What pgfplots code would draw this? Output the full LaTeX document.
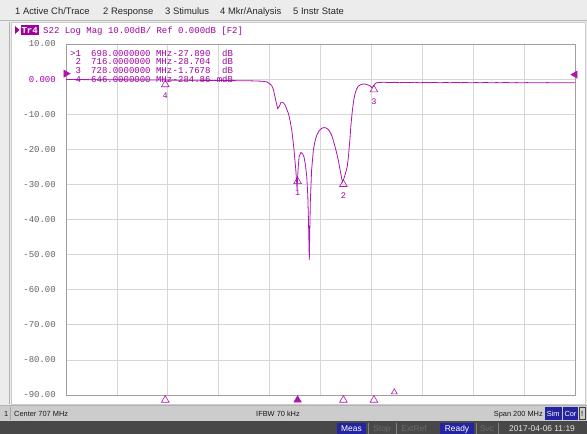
\documentclass[border=0pt]{standalone}
\usepackage{pgfplots}
\pgfplotsset{compat=1.18}
\usepackage{fontspec}
\setmainfont{Liberation Sans}
\newfontfamily\mono{Liberation Mono}
\definecolor{mag}{RGB}{175,20,175}
\definecolor{magtxt}{RGB}{160,0,160}
\definecolor{gridc}{RGB}{214,214,214}
\definecolor{framec}{RGB}{236,236,236}
\definecolor{statusc}{RGB}{204,204,204}
\definecolor{darkbar}{RGB}{72,72,72}
\definecolor{bluebox}{RGB}{36,36,160}
\definecolor{ticktxt}{RGB}{100,100,100}

\pgfplotstableread{
f db
607 -0.10
615 -0.15
625 -0.20
635 -0.25
646 -0.28
655 -0.33
665 -0.38
675 -0.45
680 -0.50
684 -0.60
685.9 -0.80
687 -1.30
687.8 -1.80
688.5 -3.00
689.1 -5.00
689.7 -7.00
690.2 -8.40
690.8 -7.80
691.5 -6.60
692.2 -6.60
693.1 -7.40
694.4 -9.80
695.1 -12.0
695.7 -14.5
696.2 -17.5
696.6 -20.2
697.0 -23.5
697.3 -25.9
697.6 -29.0
697.8 -31.5
698.0 -27.89
698.3 -24.5
698.6 -22.1
699.3 -20.9
699.9 -21.2
700.5 -22.1
701.1 -24.5
701.6 -27.8
702.0 -33.0
702.3 -41.0
702.6 -51.5
702.8 -43.0
703.0 -35.0
703.5 -26.0
704.2 -20.2
704.8 -17.8
705.5 -16.0
706.5 -14.7
707.5 -14.0
708.5 -13.8
709.4 -14.0
710.1 -14.4
710.7 -15.0
711.4 -16.0
712.0 -17.4
712.7 -19.2
713.4 -21.2
714.1 -23.5
714.7 -25.9
715.2 -27.8
715.6 -29.3
716.0 -28.704
716.6 -27.4
717.5 -25.0
717.9 -22.5
718.2 -20.2
718.6 -16.8
718.9 -13.6
719.3 -10.5
719.7 -7.9
720.1 -5.8
720.6 -4.1
721.2 -2.8
721.9 -2.0
722.8 -1.6
723.8 -1.4
724.8 -1.45
725.8 -1.7
726.6 -2.0
727.1 -2.4
727.6 -2.2
728.0 -1.7678
728.5 -1.3
729.1 -1.05
730 -0.95
732 -0.90
734 -0.98
736 -0.92
738 -1.02
740 -0.94
742 -1.00
744 -0.90
746 -1.04
748 -0.95
750 -1.02
752 -0.93
754 -1.05
756 -0.97
758 -1.03
760 -0.95
762 -1.02
764 -0.97
766 -1.06
768 -0.99
770 -1.03
772 -0.97
774 -1.06
776 -1.00
778 -1.03
780 -0.97
782 -1.05
784 -1.00
786 -1.06
788 -1.00
790 -1.04
792 -1.01
794 -1.06
796 -1.00
798 -1.04
800 -1.02
802 -1.05
804 -1.02
806 -1.04
807 -1.04
}\trace

\begin{document}
\begin{tikzpicture}
\begin{scope}[x=1pt,y=1pt]
\useasboundingbox (0,0) rectangle (587,-434);
\fill[framec] (0,0) rectangle (587,-434);
% menu bar
\draw[gray!55] (0,-20.5) -- (587,-20.5);
\begin{scope}[every node/.style={anchor=base west, inner sep=0, font=\fontsize{9.4}{10}\selectfont, text=black!85}]
\node at (15,-14.5) {1 Active Ch/Trace};
\node at (103,-14.5) {2 Response};
\node at (165,-14.5) {3 Stimulus};
\node at (220,-14.5) {4 Mkr/Analysis};
\node at (293,-14.5) {5 Instr State};
\end{scope}
% panel
\fill[white] (12,-22) rectangle (585,-404);
\draw[gray!60] (9.5,-21.5) -- (9.5,-404);
\draw[gray!40] (11.5,-22) -- (11.5,-404) -- (585,-404) -- (585,-22) -- cycle;
% status bar
\fill[statusc] (0,-405) rectangle (587,-421);
\draw[gray!60] (0,-405.5) -- (587,-405.5);
\fill[darkbar] (0,-421) rectangle (587,-434);
\begin{scope}[every node/.style={anchor=base west, inner sep=0, font=\fontsize{7.4}{8}\selectfont, text=black!90}]
\node at (4,-416) {1};
\node at (14,-416) {Center 707 MHz};
\node at (256,-416) {IFBW 70 kHz};
\node[anchor=base east] at (543,-416) {Span 200 MHz};
\end{scope}
\draw[gray!70] (10.5,-407) -- (10.5,-420);
\fill[bluebox] (545,-407) rectangle (561.5,-419.5);
\node[anchor=base, inner sep=0, text=white, font=\fontsize{7.4}{8}\selectfont] at (553.2,-416) {Sim};
\fill[bluebox] (563,-407) rectangle (578,-419.5);
\node[anchor=base, inner sep=0, text=white, font=\fontsize{7.4}{8}\selectfont] at (570.5,-416) {Cor};
\draw[gray!50!black, fill=statusc] (579.5,-407) rectangle (585,-419.5);
\node[anchor=base, inner sep=0, text=black, font=\fontsize{7.4}{8}\selectfont] at (582.2,-416) {!};
% bottom dark bar
\begin{scope}[every node/.style={anchor=base, inner sep=0, font=\fontsize{8.4}{9}\selectfont}]
\fill[bluebox] (337,-422.5) rectangle (366,-433.5);
\node[text=white] at (351.5,-431) {Meas};
\draw[gray] (368.5,-422.5) -- (368.5,-433.5);
\node[text=gray!85!black] at (382,-431) {Stop};
\draw[gray] (396.5,-422.5) -- (396.5,-433.5);
\node[text=gray!85!black] at (414,-431) {ExtRef};
\fill[bluebox] (440,-422.5) rectangle (474,-433.5);
\node[text=white] at (457,-431) {Ready};
\draw[gray] (476.5,-422.5) -- (476.5,-433.5);
\node[text=gray!85!black] at (487,-431) {Svc};
\draw[gray] (498.5,-422.5) -- (498.5,-433.5);
\node[text=white!90!black] at (542,-431) {2017-04-06 11:19};
\end{scope}
% title line
\fill[magtxt] (15,-26) -- (19.5,-30) -- (15,-34) -- cycle;
\fill[magtxt] (21,-25) rectangle (38.5,-35);
\node[anchor=base west, inner sep=0, text=white, font=\mono\bfseries\fontsize{9}{9}\selectfont] at (21.3,-33) {Tr4};
\node[anchor=base west, inner sep=0, text=magtxt, font=\mono\fontsize{9}{9}\selectfont] at (43,-33) {S22 Log Mag 10.00dB/ Ref 0.000dB [F2]};
\end{scope}

\begin{axis}[
  at={(66pt,-395pt)}, anchor=south west,
  scale only axis, width=509pt, height=351pt,
  xmin=607, xmax=807, ymin=-90, ymax=10,
  xtick={607,627,...,807}, xticklabels={},
  ytick={-90,-80,...,10},
  yticklabels={-90.00,-80.00,-70.00,-60.00,-50.00,-40.00,-30.00,-20.00,-10.00,\textcolor{magtxt}{0.000},10.00},
  yticklabel style={anchor=east, inner sep=0pt, xshift=-10pt, font=\mono\fontsize{9}{9}\selectfont, text=ticktxt},
  major tick length=0pt,
  grid=major, major grid style={draw=gridc, line width=0.7pt},
  axis line style={draw=gray!75, line width=0.7pt},
  axis background/.style={fill=white},
  clip=false,
]
\addplot[mag, line width=0.8pt] table[x=f, y=db] {\trace};
% markers on trace
\addplot[only marks, mark=triangle, mark size=4.4pt,
  mark options={draw=mag, fill=none, line width=0.6pt, yshift=-4.4pt},
  nodes near coords, point meta=explicit symbolic,
  every node near coord/.append style={anchor=north, inner sep=0pt, yshift=-8.5pt, text=magtxt, font=\mono\fontsize{8.5}{9}\selectfont}]
  coordinates {(646,-0.285)[4] (698,-27.89)[1] (716,-28.704)[2] (728,-1.7678)[3]};
% marker position indicators under axis
\addplot[only marks, mark=triangle, mark size=4.4pt,
  mark options={draw=mag, fill=white, line width=0.6pt, yshift=-5pt}]
  coordinates {(646,-90) (716,-90) (728,-90)};
\addplot[only marks, mark=triangle*, mark size=4.4pt,
  mark options={draw=mag, fill=mag, yshift=-5pt}]
  coordinates {(698,-90)};
\addplot[only marks, mark=triangle, mark size=3.4pt,
  mark options={draw=mag, fill=none, line width=0.6pt}]
  coordinates {(736,-89.2)};
% reference position indicators
\addplot[only marks, mark=triangle*, mark size=4.2pt,
  mark options={draw=mag, fill=mag, rotate=-90, xshift=-5.5pt}]
  coordinates {(607,0)};
\addplot[only marks, mark=triangle*, mark size=4.2pt,
  mark options={draw=mag, fill=mag, rotate=90, xshift=4.5pt}]
  coordinates {(807,0)};
\end{axis}
% marker readout table
\begin{scope}[x=1pt,y=1pt,every node/.style={anchor=base west, inner sep=0, text=magtxt, font=\mono\fontsize{9}{9}\selectfont}]
\node at (70,-56) {>1}; \node at (91,-56) {698.0000000 MHz}; \node at (172.5,-56) {-27.890}; \node at (222,-56) {dB};
\node at (75.4,-64.7) {2}; \node at (91,-64.7) {716.0000000 MHz}; \node at (172.5,-64.7) {-28.704}; \node at (222,-64.7) {dB};
\node at (75.4,-73.4) {3}; \node at (91,-73.4) {728.0000000 MHz}; \node at (172.5,-73.4) {-1.7678}; \node at (222,-73.4) {dB};
\node at (75.4,-82.1) {4}; \node at (91,-82.1) {646.0000000 MHz}; \node at (172.5,-82.1) {-284.86}; \node at (216.6,-82.1) {mdB};
\end{scope}
\end{tikzpicture}
\end{document}
